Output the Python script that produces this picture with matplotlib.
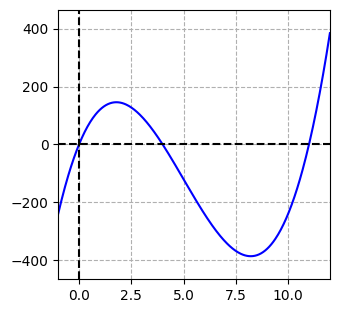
import numpy as np
import matplotlib.pyplot as plt

# cubic: roots at 0, 4, 11, leading coefficient 4
roots = [0.0, 4.0, 11.0]
scale = 4.0
x_range = [-1.0, 12.0]
y_range = [-464.0, 464.0]
x_ticks = [0.0, 2.5, 5.0, 7.5, 10.0]
y_ticks = [-400, -200, 0, 200, 400]

coeffs = scale * np.poly(roots)
x = np.linspace(x_range[0], x_range[1], 400)
y = np.polyval(coeffs, x)

fig = plt.figure(figsize=(3.38, 3.13), dpi=100)
ax = fig.add_axes([0.172, 0.109, 0.804, 0.859])
ax.plot(x, y, 'b')
ax.axhline(0, color='k', linestyle='--')
ax.axvline(0, color='k', linestyle='--')
ax.grid(True, linestyle='--')
ax.set_xlim(x_range)
ax.set_ylim(y_range)
ax.set_xticks(x_ticks)
ax.set_yticks(y_ticks)
fig.savefig('out.png', dpi=100)
